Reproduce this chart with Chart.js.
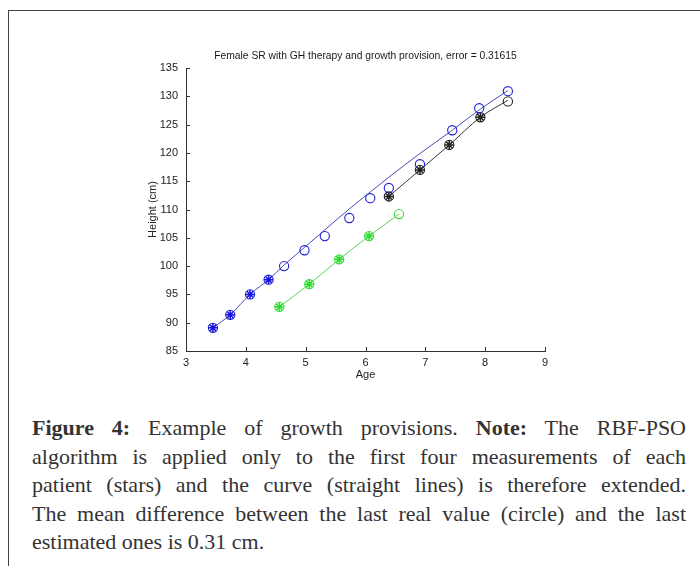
<!DOCTYPE html>
<html>
<head>
<meta charset="utf-8">
<script src="https://cdn.jsdelivr.net/npm/chart.js@4.4.1/dist/chart.umd.min.js"></script>
<style>
  html, body { margin: 0; padding: 0; background: #fff; }
  body { width: 700px; height: 566px; position: relative; overflow: hidden; }
  #frameLeft { position: absolute; left: 8px; top: 10px; width: 1px; height: 560px; background: #444; }
  #frameTop { position: absolute; left: 8px; top: 10px; width: 700px; height: 1px; background: #444; }
  #wrap { position: absolute; left: 0; top: 0; width: 700px; height: 400px; }
  #caption {
    position: absolute; left: 32px; top: 414px; width: 654px;
    font-family: "Liberation Serif", "DejaVu Serif", serif;
    font-size: 22px; line-height: 28.5px; color: #333;
  }
  #caption .ln { text-align: justify; text-align-last: justify; white-space: nowrap; }
  #caption .ln.last { text-align-last: left; }
</style>
</head>
<body>
<div id="frameLeft"></div>
<div id="frameTop"></div>
<div id="wrap"><canvas id="chart" width="700" height="400"></canvas></div>
<div id="caption">
  <div class="ln"><b>Figure 4:</b> Example of growth provisions. <b>Note:</b> The RBF-PSO</div>
  <div class="ln">algorithm is applied only to the first four measurements of each</div>
  <div class="ln">patient (stars) and the curve (straight lines) is therefore extended.</div>
  <div class="ln">The mean difference between the last real value (circle) and the last</div>
  <div class="ln last">estimated ones is 0.31 cm.</div>
</div>
<script>
// ================= DATA =================
const chartTitle = "Female SR with GH therapy and growth provision, error = 0.31615";
const xTicks = [3, 4, 5, 6, 7, 8, 9];
const yTicks = [85, 90, 95, 100, 105, 110, 115, 120, 125, 130, 135];

// patient 1 (blue)
const blueAges     = [3.45, 3.74, 4.07, 4.38, 4.64, 4.98, 5.32, 5.73, 6.08, 6.39, 6.91, 7.45, 7.90, 8.38];
const blueMeasured = [89.1, 91.4, 95.0, 97.6, 100.0, 102.8, 105.3, 108.5, 112.0, 113.8, 118.0, 124.0, 127.9, 130.9];
const blueCurve    = [89.1, 91.4, 95.0, 97.6, 100.2, 103.3, 106.4, 110.1, 113.1, 115.7, 119.9, 124.0, 127.6, 131.0];

// patient 2 (black)
const blackAges     = [6.39, 6.91, 7.40, 7.92, 8.38];
const blackMeasured = [112.3, 117.0, 121.4, 126.3, 129.1];
const blackCurve    = [112.3, 117.0, 121.4, 126.3, 129.3];

// patient 3 (green)
const greenAges     = [4.56, 5.06, 5.56, 6.06, 6.56];
const greenMeasured = [92.8, 96.8, 101.2, 105.3, 109.2];
const greenCurve    = [92.8, 96.8, 101.2, 105.3, 109.2];

const nStars = 4; // RBF-PSO applied to first four measurements

// ================= HELPERS =================
function pts(xs, ys){
    return xs.map((x, i) => ({ x: x, y: ys[i] }));
}

function lineSet(xs, ys, color){
    return {
        data: pts(xs, ys), showLine: true, borderColor: color, borderWidth: 1,
        pointRadius: 0, pointHoverRadius: 0, cubicInterpolationMode: "monotone", order: 3
    };
}

function circleSet(xs, ys, color){
    return {
        data: pts(xs, ys), showLine: false, pointStyle: "circle",
        pointRadius: 4.6, pointBorderWidth: 1.1, borderColor: color,
        backgroundColor: "rgba(0,0,0,0)", order: 2
    };
}

function starSet(xs, ys, color){
    return {
        data: pts(xs.slice(0, nStars), ys.slice(0, nStars)), showLine: false, pointStyle: "star",
        pointRadius: 4.5, pointBorderWidth: 1.5, borderColor: color,
        backgroundColor: color, order: 1
    };
}

// inward tick marks + title centred over the axes, matlab style
const matlabAxes = {
    id: "matlabAxes",
    afterDraw(chart){
        const ctx = chart.ctx;
        const xs = chart.scales.x, ys = chart.scales.y;
        const area = chart.chartArea;
        ctx.save();
        ctx.strokeStyle = "#333";
        ctx.lineWidth = 1;
        ctx.beginPath();
        xTicks.forEach(v => {
            const px = Math.round(xs.getPixelForValue(v)) + 0.5;
            ctx.moveTo(px, area.bottom);
            ctx.lineTo(px, area.bottom - 4);
        });
        yTicks.forEach(v => {
            const py = Math.round(ys.getPixelForValue(v)) + 0.5;
            ctx.moveTo(area.left, py);
            ctx.lineTo(area.left + 4, py);
        });
        ctx.stroke();

        ctx.fillStyle = "#1a1a1a";
        ctx.font = "10.3px 'Liberation Sans', Arial, sans-serif";
        ctx.textAlign = "center";
        ctx.textBaseline = "middle";
        ctx.fillText(chartTitle, (area.left + area.right) / 2, area.top - 12);
        ctx.restore();
    }
};

const font = { family: "'Liberation Sans', Arial, sans-serif", size: 11 };

// ================= CHART =================
const ctx = document.getElementById("chart").getContext("2d");
const chart = new Chart(ctx, {
    type: "scatter",
    data: {
        datasets: [
            starSet(blueAges, blueCurve, "#1414dc"),
            starSet(blackAges, blackCurve, "#222"),
            starSet(greenAges, greenCurve, "#2edc2e"),
            circleSet(blueAges, blueMeasured, "#1e1ed2"),
            circleSet(blackAges, blackMeasured, "#222"),
            circleSet(greenAges, greenMeasured, "#3ad83a"),
            lineSet(blueAges, blueCurve, "#4a4abf"),
            lineSet(blackAges, blackCurve, "#333"),
            lineSet(greenAges, greenCurve, "#5ad85a")
        ]
    },
    options: {
        responsive: false,
        animation: false,
        devicePixelRatio: 1,
        layout: { padding: { left: 140, right: 155, top: 68, bottom: 0 } },
        plugins: {
            legend: { display: false },
            tooltip: { enabled: false },
            title: { display: false }
        },
        scales: {
            x: {
                type: "linear", min: 3, max: 9,
                afterFit(scale){ scale.height = 49; },
                afterBuildTicks(scale){ scale.ticks = xTicks.map(v => ({ value: v })); },
                grid: { display: false, drawTicks: false },
                border: { display: true, color: "#333", width: 1 },
                ticks: { color: "#222", font: font, padding: 5, maxRotation: 0 },
                title: { display: true, text: "Age", color: "#222", font: font, padding: { top: 0, bottom: 18 } }
            },
            y: {
                type: "linear", min: 85, max: 135,
                afterFit(scale){ scale.width = 46; },
                afterBuildTicks(scale){ scale.ticks = yTicks.map(v => ({ value: v })); },
                grid: { display: false, drawTicks: false },
                border: { display: true, color: "#333", width: 1 },
                ticks: { color: "#222", font: font, padding: 8 },
                title: { display: true, text: "Height (cm)", color: "#222", font: font, padding: { top: 6, bottom: 0 } }
            }
        }
    },
    plugins: [matlabAxes]
});
</script>
</body>
</html>
